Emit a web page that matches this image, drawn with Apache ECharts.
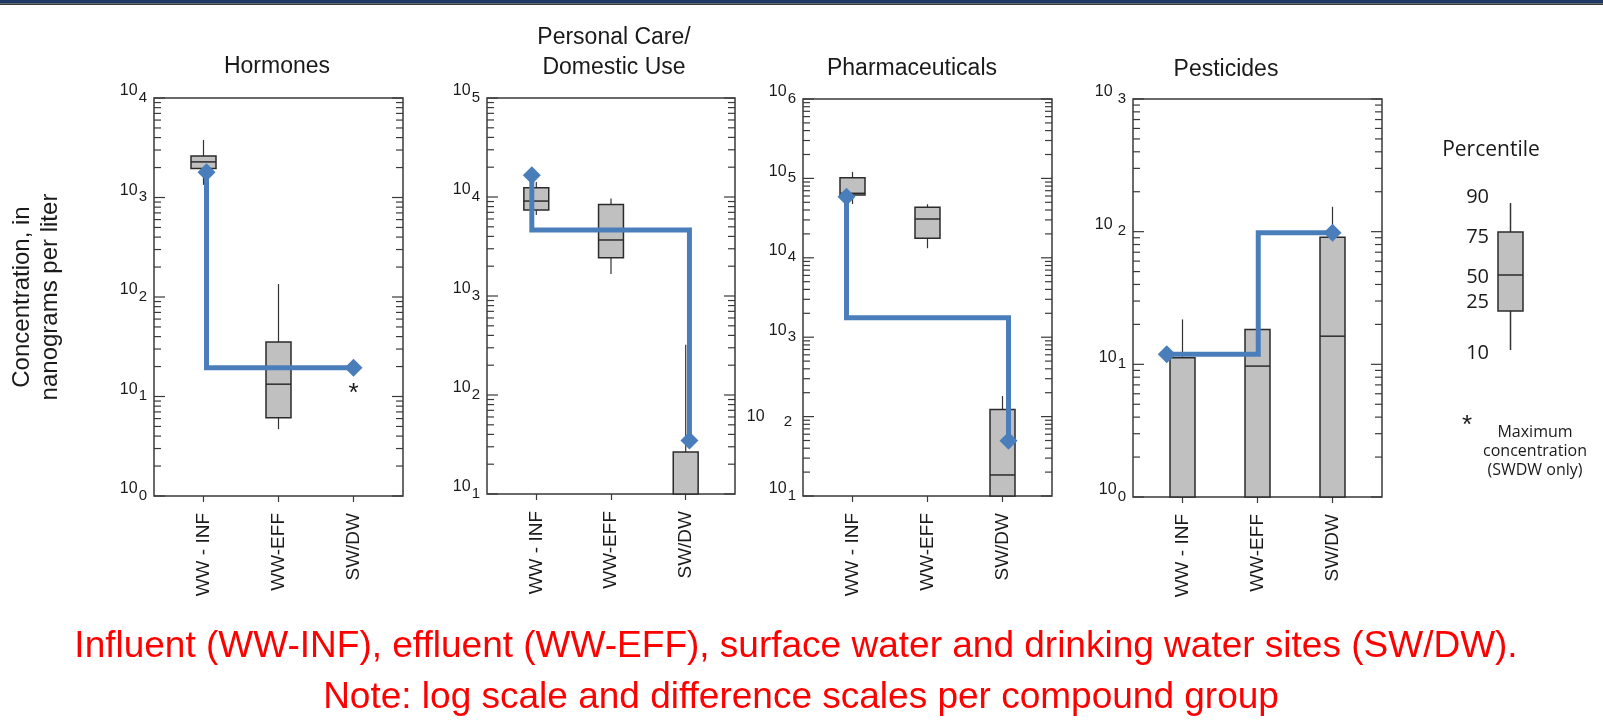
<!DOCTYPE html>
<html>
<head>
<meta charset="utf-8">
<title>Concentrations by compound group</title>
<style>
  html, body { margin: 0; padding: 0; background: #ffffff; }
  #chart { width: 1603px; height: 727px; }
</style>
<script src="https://cdn.jsdelivr.net/npm/echarts@6.0.0/dist/echarts.min.js"></script>
</head>
<body>
<div id="chart"></div>
<script>
// Sampling sites, placed at positions 1, 2, 3 on each x axis
const sites = ['WW - INF', 'WW-EFF', 'SW/DW'];

// Compound groups (one panel each)
const groupTitles = ['Hormones', 'Personal Care/\nDomestic Use', 'Pharmaceuticals', 'Pesticides'];

// Concentration range of each panel, ng/L (log scale, decade ticks)
const hormonesRange = [1, 10000];
const personalCareRange = [10, 100000];
const pharmaceuticalsRange = [10, 1000000];
const pesticidesRange = [1, 1000];

// Percentile boxes: [site, p10, p25, p50, p75, p90]
// null = at or below the bottom of the axis
const hormonesBoxes = [
  [1, 1340, 1960, 2280, 2610, 3790],
  [2, 4.7, 6.1, 13.3, 35.3, 135]
];
const personalCareBoxes = [
  [1, 6580, 7380, 9100, 12400, 14200],
  [2, 1670, 2440, 3680, 8420, 9680],
  [3, null, null, null, 26.6, 321]
];
const pharmaceuticalsBoxes = [
  [1, 47600, 61800, 64900, 102000, 121000],
  [2, 13200, 17600, 30800, 43300, 47200],
  [3, null, null, 18.4, 123, 182]
];
const pesticidesBoxes = [
  [1, null, null, null, 11.2, 21.8],
  [2, null, null, 9.7, 18.3, 18.3],
  [3, null, null, 16.3, 90.6, 154]
];

// Step path of typical concentration across the sites: [site position, ng/L]
const hormonesPath = [[1.04, 1790], [1.04, 19.5], [3, 19.5]];
const personalCarePath = [[0.94, 16600], [0.94, 4640], [3.05, 4640], [3.05, 34.8]];
const pharmaceuticalsPath = [[0.92, 58900], [0.92, 1760], [3.08, 1760], [3.08, 49.7]];
const pesticidesPath = [[0.79, 11.9], [2.01, 11.9], [2.01, 98], [3, 98]];

// Maximum concentration at SW/DW sites (hormones)
const hormonesMaxSWDW = [[3, 12.1]];

// Key
const percentileLabels = ['90', '75', '50', '25', '10'];

const BLUE = '#4a7ebb';
const INK = '#1a1a1a';
const FRAME = '#3a3a3a';
const SANS = '"Liberation Sans", Arial, Helvetica, sans-serif';
const KEYFONT = '"Open Sans", "Noto Sans", sans-serif';

const panels = [
  { title: groupTitles[0], range: hormonesRange, boxes: hormonesBoxes, path: hormonesPath,
    grid: { left: 154, top: 98, width: 249, height: 398 }, titlePos: [277, 67] },
  { title: groupTitles[1], range: personalCareRange, boxes: personalCareBoxes, path: personalCarePath,
    grid: { left: 487, top: 98, width: 248, height: 396 }, titlePos: [614, 53] },
  { title: groupTitles[2], range: pharmaceuticalsRange, boxes: pharmaceuticalsBoxes, path: pharmaceuticalsPath,
    grid: { left: 803, top: 99, width: 249, height: 397 }, titlePos: [912, 69], oddLabel: 2 },
  { title: groupTitles[3], range: pesticidesRange, boxes: pesticidesBoxes, path: pesticidesPath,
    grid: { left: 1133, top: 99, width: 249, height: 398 }, titlePos: [1226, 70], spacedFrom: 2 }
];

// Decade labels written as 10 with a raised exponent
function decadeLabel(panel) {
  return function (v) {
    const e = Math.round(Math.log10(v));
    if (panel.oddLabel === e) return '{gb|10}{gs|' + e + '}';
    if (panel.spacedFrom !== undefined && e >= panel.spacedFrom) return '{b|10}{sp| }{s|' + e + '}';
    return '{b|10}{s|' + e + '}';
  };
}

const labelRich = {
  b: { fontSize: 16, lineHeight: 16, padding: [12, 1, 7, 0], verticalAlign: 'bottom', color: INK, fontFamily: SANS },
  s: { fontSize: 15, lineHeight: 15, verticalAlign: 'top', color: INK, fontFamily: SANS },
  sp: { fontSize: 16, width: 4, lineHeight: 16, verticalAlign: 'bottom', fontFamily: SANS },
  gb: { fontSize: 16, lineHeight: 16, padding: [24, 19, 0, 0], verticalAlign: 'bottom', color: INK, fontFamily: SANS },
  gs: { fontSize: 15, lineHeight: 15, padding: [6, 4, 0, 0], verticalAlign: 'top', color: INK, fontFamily: SANS }
};

// Log-scale ticks on the inside of both vertical frame edges
function tickRenderer(range) {
  return function (params, api) {
    const cs = params.coordSys;
    const children = [];
    const e0 = Math.round(Math.log10(range[0]));
    const e1 = Math.round(Math.log10(range[1]));
    for (let e = e0; e <= e1; e++) {
      for (let k = 1; k <= 9; k++) {
        const v = k * Math.pow(10, e);
        if (v > range[1] * 1.0001) break;
        const y = api.coord([1, v])[1];
        const len = k === 1 ? 11 : 7;
        const st = { stroke: FRAME, lineWidth: 1.2 };
        children.push({ type: 'line', shape: { x1: cs.x, y1: y, x2: cs.x + len, y2: y }, style: st });
        children.push({ type: 'line', shape: { x1: cs.x + cs.width, y1: y, x2: cs.x + cs.width - len, y2: y }, style: st });
      }
    }
    return { type: 'group', children: children };
  };
}

// Percentile box with whiskers; box width is a third of the site spacing
function boxRenderer(range) {
  return function (params, api) {
    const cs = params.coordSys;
    const bottom = cs.y + cs.height;
    const site = api.value(0);
    const yOf = function (i) {
      const v = api.value(i);
      if (v === null || isNaN(v)) return bottom;
      return Math.min(api.coord([site, v])[1], bottom);
    };
    const cx = api.coord([site, range[0]])[0];
    const left = api.coord([site - 1 / 6, range[0]])[0];
    const right = api.coord([site + 1 / 6, range[0]])[0];
    const y10 = yOf(1), y25 = yOf(2), y75 = yOf(4), y90 = yOf(5);
    const med = api.value(3);
    const wStyle = { stroke: '#333333', lineWidth: 1.2 };
    const children = [
      { type: 'line', shape: { x1: cx, y1: y25, x2: cx, y2: y10 }, style: wStyle },
      { type: 'line', shape: { x1: cx, y1: y75, x2: cx, y2: y90 }, style: wStyle },
      { type: 'rect', shape: { x: left, y: y75, width: right - left, height: y25 - y75 },
        style: { fill: '#c0c0c0', stroke: '#2b2b2b', lineWidth: 1.5 } }
    ];
    if (!(med === null || isNaN(med))) {
      const ym = yOf(3);
      children.push({ type: 'line', shape: { x1: left, y1: ym, x2: right, y2: ym }, style: { stroke: '#2b2b2b', lineWidth: 1.5 } });
    }
    return { type: 'group', children: children };
  };
}

const grid = [], xAxis = [], yAxis = [], series = [];

panels.forEach(function (p, i) {
  grid.push(Object.assign({ show: true, borderColor: FRAME, borderWidth: 1.5, backgroundColor: 'transparent' }, p.grid));

  xAxis.push({
    type: 'value', gridIndex: i, min: 0.34, max: 3.66,
    splitLine: { show: false },
    axisLine: { show: false },
    axisTick: { show: true, customValues: [1, 2, 3], length: 6, lineStyle: { color: FRAME, width: 1.2 } },
    axisLabel: {
      customValues: [1, 2, 3], rotate: 90, margin: 17,
      fontSize: 19, color: INK, fontFamily: SANS,
      formatter: function (v) { return sites[Math.round(v) - 1]; }
    }
  });

  yAxis.push({
    type: 'log', logBase: 10, gridIndex: i, min: p.range[0], max: p.range[1],
    splitLine: { show: false },
    axisLine: { show: false },
    axisTick: { show: false },
    axisLabel: { margin: 7, formatter: decadeLabel(p), rich: labelRich }
  });

  series.push({
    type: 'custom', xAxisIndex: i, yAxisIndex: i, silent: true, z: 1,
    data: [[1, p.range[0]]],
    renderItem: tickRenderer(p.range)
  });

  series.push({
    type: 'custom', xAxisIndex: i, yAxisIndex: i, silent: true, z: 2,
    encode: { x: 0, y: [1, 2, 3, 4, 5] },
    data: p.boxes,
    renderItem: boxRenderer(p.range)
  });

  series.push({
    type: 'line', xAxisIndex: i, yAxisIndex: i, silent: true, z: 5,
    data: p.path, symbol: 'none',
    lineStyle: { color: BLUE, width: 5, join: 'miter', cap: 'butt', opacity: 1 }
  });

  series.push({
    type: 'scatter', xAxisIndex: i, yAxisIndex: i, silent: true, z: 6,
    data: [p.path[0], p.path[p.path.length - 1]],
    symbol: 'diamond', symbolSize: 18,
    itemStyle: { color: BLUE, opacity: 1 }
  });
});

// Asterisk marking the SW/DW maximum in the hormones panel
series.push({
  type: 'custom', xAxisIndex: 0, yAxisIndex: 0, silent: true, z: 7,
  data: hormonesMaxSWDW,
  renderItem: function (params, api) {
    const pt = api.coord([api.value(0), api.value(1)]);
    return {
      type: 'text', x: pt[0], y: pt[1] + 6,
      style: { text: '*', fontSize: 26, fontFamily: SANS, fill: INK, align: 'center', verticalAlign: 'middle' }
    };
  }
});

const graphic = [
  // header band
  { type: 'rect', left: 0, top: 0, shape: { width: 1603, height: 3.5 }, style: { fill: '#1f3864' }, silent: true },
  { type: 'rect', left: 0, top: 3.5, shape: { width: 1603, height: 1.5 }, style: { fill: '#3b3b3b' }, silent: true },
  // shared y axis title
  { type: 'text', x: 36, y: 297, rotation: Math.PI / 2, silent: true,
    style: { text: 'Concentration, in\nnanograms per liter', fontSize: 24, lineHeight: 28, fontFamily: SANS,
             fill: INK, align: 'center', verticalAlign: 'middle' } },
  // caption
  { type: 'text', x: 796, y: 647, silent: true,
    style: { text: 'Influent (WW-INF), effluent (WW-EFF), surface water and drinking water sites (SW/DW).',
             fontSize: 37, fontFamily: SANS, fill: '#ff0000', align: 'center', verticalAlign: 'middle' } },
  { type: 'text', x: 801, y: 698, silent: true,
    style: { text: 'Note: log scale and difference scales per compound group',
             fontSize: 37, fontFamily: SANS, fill: '#ff0000', align: 'center', verticalAlign: 'middle' } },
  // key
  { type: 'text', x: 1491, y: 150, silent: true,
    style: { text: 'Percentile', fontSize: 21, fontFamily: KEYFONT, fill: INK, align: 'center', verticalAlign: 'middle' } },
  { type: 'line', silent: true, shape: { x1: 1510.5, y1: 203, x2: 1510.5, y2: 350 }, style: { stroke: '#333333', lineWidth: 1.5 } },
  { type: 'rect', silent: true, shape: { x: 1498, y: 232, width: 25, height: 79 }, style: { fill: '#c0c0c0', stroke: '#2b2b2b', lineWidth: 1.5 } },
  { type: 'line', silent: true, shape: { x1: 1498, y1: 275, x2: 1523, y2: 275 }, style: { stroke: '#2b2b2b', lineWidth: 1.5 } },
  { type: 'text', x: 1467, y: 426, silent: true,
    style: { text: '*', fontSize: 26, fontFamily: SANS, fill: INK, align: 'center', verticalAlign: 'middle' } },
  { type: 'text', x: 1535, y: 451, silent: true,
    style: { text: 'Maximum\nconcentration\n(SWDW only)', fontSize: 16, lineHeight: 19, fontFamily: KEYFONT,
             fill: INK, align: 'center', verticalAlign: 'middle' } }
];

const keyYs = [197, 237, 277, 302, 353];
percentileLabels.forEach(function (t, i) {
  graphic.push({ type: 'text', x: 1489, y: keyYs[i], silent: true,
    style: { text: t, fontSize: 20, fontFamily: KEYFONT, fill: INK, align: 'right', verticalAlign: 'middle' } });
});

panels.forEach(function (p) {
  graphic.push({ type: 'text', x: p.titlePos[0], y: p.titlePos[1], silent: true,
    style: { text: p.title, fontSize: 23, lineHeight: 30, fontFamily: SANS, fill: INK, align: 'center', verticalAlign: 'middle' } });
});

const chart = echarts.init(document.getElementById('chart'), null, { renderer: 'canvas' });
chart.setOption({
  animation: false,
  backgroundColor: '#ffffff',
  grid: grid,
  xAxis: xAxis,
  yAxis: yAxis,
  series: series,
  graphic: graphic
});
</script>
</body>
</html>
